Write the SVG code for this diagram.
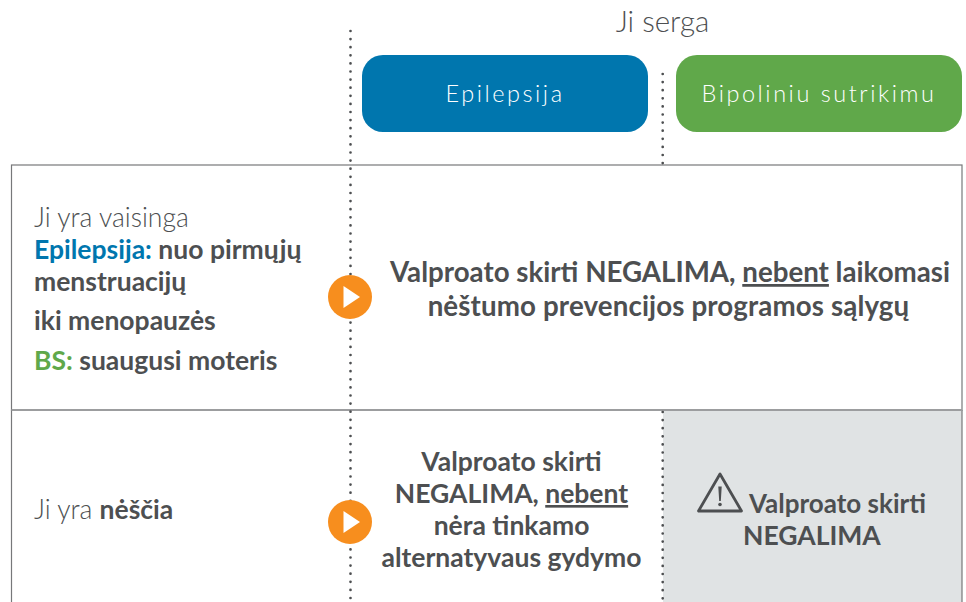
<svg xmlns="http://www.w3.org/2000/svg" width="966" height="602" viewBox="0 0 966 602">
<style>
text{font-family:"Lato","Noto Sans","Liberation Sans",sans-serif;fill:#4d4f51}
.l{font-size:26.5px;font-weight:300}
.b{font-size:26.5px;font-weight:700}
.w{font-size:27.700px;font-weight:700}
.m{text-anchor:middle}
.h{font-size:23.500px;font-weight:300;fill:#fff;letter-spacing:2.55px;text-anchor:middle}
.dot{fill:none;stroke:#4d4f51;stroke-width:2.7;stroke-linecap:round;stroke-dasharray:0 8.1}
.tri{fill:#fff}
</style>
<rect width="966" height="602" fill="#fff"/>
<rect id="grey-cell" x="663" y="410" width="299" height="192" fill="#e0e3e4"/>
<g id="table" fill="none" stroke="#77787a" stroke-width="1.2">
<rect x="11.500" y="165" width="950.500" height="245"/>
<path d="M11.500 410V602M962 410V602"/>
<path d="M11.500 410H962" stroke="#9c9d9f" stroke-width="1.800"/>
</g>
<g id="connectors">
<path class="dot" d="M350.500 31V602"/>
<path class="dot" d="M662.700 74V164"/>
<path class="dot" d="M662.700 412V602"/>
</g>
<text id="title" x="662.500" y="32" text-anchor="middle" font-size="29.500" font-weight="300">Ji serga</text>
<g id="epilepsija"><rect x="362" y="55" width="286" height="77" rx="21" fill="#0076ae"/><text class="h" x="505" y="102">Epilepsija</text></g>
<g id="bipolinis"><rect x="676" y="55" width="286" height="77" rx="21" fill="#60a84a"/><text class="h" x="819" y="102">Bipoliniu sutrikimu</text></g>
<g id="row1-label">
<text class="l" x="34" y="227">Ji yra vaisinga</text>
<text class="b" x="34" y="259"><tspan fill="#0076ae">Epilepsija:</tspan> nuo pirmųjų</text>
<text class="b" x="34" y="291">menstruacijų</text>
<text class="b" x="34" y="330">iki menopauzės</text>
<text class="b" x="34" y="370"><tspan fill="#60a84a">BS:</tspan> suaugusi moteris</text>
</g>
<g id="row1-play"><circle cx="350" cy="297" r="22" fill="#f78e1e"/><path class="tri" d="M343.500 286L360 297L343.500 308Z"/></g>
<g id="row1-text">
<text class="w m" x="670" y="282">Valproato skirti NEGALIMA, <tspan text-decoration="underline">nebent</tspan> laikomasi</text>
<text class="w m" x="668.500" y="316" style="letter-spacing:.13px">nėštumo prevencijos programos sąlygų</text>
</g>
<g id="row2-label"><text class="l" x="34" y="519">Ji yra <tspan font-weight="700">nėščia</tspan></text></g>
<g id="row2-play"><circle cx="350" cy="522" r="22" fill="#f78e1e"/><path class="tri" d="M343.500 511L360 522L343.500 533Z"/></g>
<g id="row2-text">
<text class="b m" x="511.500" y="471">Valproato skirti</text>
<text class="b m" x="511.500" y="503">NEGALIMA, <tspan text-decoration="underline">nebent</tspan></text>
<text class="b m" x="511.500" y="535">nėra tinkamo</text>
<text class="b m" x="511.500" y="567">alternatyvaus gydymo</text>
</g>
<g id="warning">
<path d="M720 474L698.500 511H741.500Z" fill="none" stroke="#4d4f51" stroke-width="2.800" stroke-linejoin="round"/>
<path d="M718.300 486.500H721.700L720.800 501H719.200Z" fill="#4d4f51"/><circle cx="720" cy="504.500" r="1.800" fill="#4d4f51"/>
<text x="749" y="512.500" font-size="26" font-weight="700">Valproato skirti</text>
<text class="b" x="743" y="545">NEGALIMA</text>
</g>
</svg>
